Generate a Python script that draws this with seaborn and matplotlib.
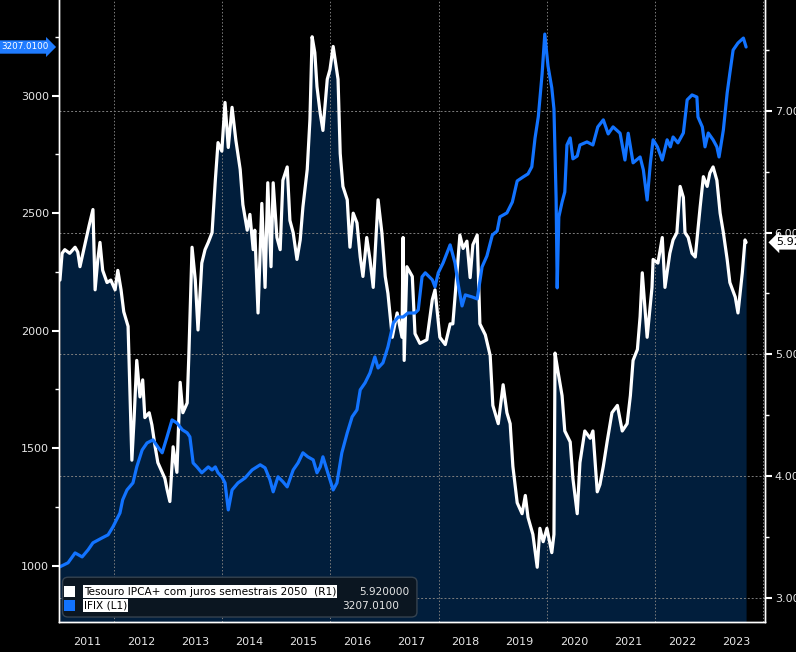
import numpy as np
import pandas as pd
import matplotlib
matplotlib.use("Agg")
import matplotlib.pyplot as plt
import matplotlib.dates as mdates
import matplotlib.transforms as mtransforms
from matplotlib.patches import FancyBboxPatch, Rectangle
import seaborn as sns

# ---------------------------------------------------------------------------
# data (decimal years)

# Tesouro IPCA+ com juros semestrais 2050, yield % (right axis)
tesouro_year = [
    2011.00, 2011.04, 2011.09, 2011.18, 2011.28, 2011.33, 2011.37, 2011.46, 2011.54, 2011.61,
    2011.65, 2011.70, 2011.74, 2011.79, 2011.87, 2011.94, 2012.02, 2012.07, 2012.13, 2012.18,
    2012.26, 2012.33, 2012.37, 2012.42, 2012.48, 2012.53, 2012.57, 2012.65, 2012.70, 2012.76,
    2012.81, 2012.89, 2012.94, 2012.98, 2013.03, 2013.09, 2013.16, 2013.22, 2013.27, 2013.35,
    2013.38, 2013.44, 2013.50, 2013.55, 2013.62, 2013.68, 2013.74, 2013.81, 2013.87, 2013.92,
    2013.99, 2014.05, 2014.11, 2014.18, 2014.25, 2014.33, 2014.38, 2014.46, 2014.51, 2014.57,
    2014.60, 2014.66, 2014.73, 2014.79, 2014.84, 2014.90, 2014.94, 2015.01, 2015.07, 2015.12,
    2015.20, 2015.25, 2015.31, 2015.38, 2015.44, 2015.49, 2015.57, 2015.62, 2015.66, 2015.71,
    2015.75, 2015.81, 2015.86, 2015.94, 2015.99, 2016.05, 2016.10, 2016.14, 2016.18, 2016.23,
    2016.31, 2016.36, 2016.42, 2016.49, 2016.55, 2016.60, 2016.67, 2016.73, 2016.79, 2016.88,
    2016.95, 2017.01, 2017.06, 2017.14, 2017.23, 2017.32, 2017.34, 2017.36, 2017.41, 2017.51,
    2017.56, 2017.65, 2017.78, 2017.88, 2017.93, 2018.02, 2018.12, 2018.21, 2018.26, 2018.34,
    2018.39, 2018.45, 2018.52, 2018.58, 2018.63, 2018.71, 2018.76, 2018.86, 2018.95, 2019.00,
    2019.10, 2019.19, 2019.26, 2019.32, 2019.37, 2019.45, 2019.54, 2019.60, 2019.65, 2019.74,
    2019.82, 2019.87, 2019.93, 2020.00, 2020.09, 2020.13, 2020.15, 2020.20, 2020.28, 2020.33,
    2020.43, 2020.48, 2020.56, 2020.61, 2020.70, 2020.80, 2020.85, 2020.93, 2020.98, 2021.04,
    2021.11, 2021.20, 2021.30, 2021.39, 2021.48, 2021.54, 2021.59, 2021.67, 2021.72, 2021.76,
    2021.85, 2021.94, 2021.96, 2022.05, 2022.13, 2022.18, 2022.27, 2022.33, 2022.40, 2022.46,
    2022.52, 2022.55, 2022.61, 2022.68, 2022.74, 2022.83, 2022.89, 2022.96, 2023.01, 2023.07,
    2023.14, 2023.20, 2023.26, 2023.33, 2023.38, 2023.48, 2023.53, 2023.61, 2023.66, 2023.68,
]
tesouro_yield = [
    5.61, 5.83, 5.86, 5.83, 5.88, 5.84, 5.72, 5.90, 6.06, 6.19,
    5.53, 5.78, 5.92, 5.69, 5.59, 5.61, 5.53, 5.69, 5.53, 5.35,
    5.23, 4.13, 4.46, 4.95, 4.65, 4.79, 4.48, 4.52, 4.42, 4.24,
    4.11, 4.03, 3.98, 3.89, 3.79, 4.24, 4.03, 4.77, 4.52, 4.60,
    4.98, 5.88, 5.61, 5.20, 5.75, 5.86, 5.92, 6.00, 6.43, 6.74,
    6.67, 7.07, 6.70, 7.03, 6.76, 6.52, 6.23, 6.02, 6.15, 5.86,
    6.02, 5.34, 6.24, 5.55, 6.41, 5.72, 6.41, 5.96, 5.86, 6.43,
    6.54, 6.10, 6.00, 5.78, 5.94, 6.21, 6.52, 6.93, 7.61, 7.48,
    7.20, 6.98, 6.84, 7.26, 7.34, 7.53, 7.38, 7.26, 6.65, 6.38,
    6.27, 5.88, 6.16, 6.08, 5.80, 5.64, 5.96, 5.78, 5.55, 6.27,
    6.00, 5.64, 5.50, 5.14, 5.34, 5.14, 5.96, 4.95, 5.72, 5.64,
    5.17, 5.09, 5.12, 5.45, 5.53, 5.14, 5.08, 5.25, 5.25, 5.69,
    5.98, 5.87, 5.93, 5.63, 5.90, 5.98, 5.25, 5.16, 4.99, 4.58,
    4.43, 4.75, 4.52, 4.43, 4.08, 3.78, 3.69, 3.84, 3.66, 3.52,
    3.25, 3.57, 3.46, 3.57, 3.37, 3.52, 5.01, 4.87, 4.66, 4.37,
    4.28, 3.98, 3.69, 4.11, 4.37, 4.31, 4.37, 3.87, 3.93, 4.08,
    4.28, 4.52, 4.58, 4.37, 4.43, 4.66, 4.95, 5.04, 5.31, 5.67,
    5.14, 5.55, 5.78, 5.75, 5.96, 5.55, 5.83, 5.94, 6.00, 6.38,
    6.29, 6.00, 5.96, 5.83, 5.80, 6.21, 6.46, 6.38, 6.49, 6.54,
    6.43, 6.16, 6.00, 5.78, 5.59, 5.47, 5.34, 5.67, 5.94, 5.92,
]

# IFIX index (left axis)
ifix_year = [
    2011.00, 2011.15, 2011.28, 2011.41, 2011.52, 2011.61, 2011.78, 2011.89, 2011.98, 2012.11,
    2012.16, 2012.24, 2012.35, 2012.42, 2012.52, 2012.61, 2012.72, 2012.81, 2012.89, 2012.98,
    2013.07, 2013.16, 2013.26, 2013.35, 2013.40, 2013.46, 2013.53, 2013.62, 2013.74, 2013.81,
    2013.87, 2013.92, 2013.99, 2014.05, 2014.11, 2014.18, 2014.29, 2014.42, 2014.55, 2014.70,
    2014.79, 2014.88, 2014.94, 2015.03, 2015.12, 2015.20, 2015.31, 2015.40, 2015.49, 2015.58,
    2015.68, 2015.75, 2015.81, 2015.86, 2015.95, 2016.05, 2016.12, 2016.21, 2016.31, 2016.40,
    2016.49, 2016.55, 2016.64, 2016.73, 2016.82, 2016.88, 2016.97, 2017.06, 2017.16, 2017.25,
    2017.34, 2017.43, 2017.56, 2017.62, 2017.69, 2017.75, 2017.88, 2017.93, 2017.99, 2018.08,
    2018.21, 2018.30, 2018.36, 2018.43, 2018.49, 2018.62, 2018.71, 2018.80, 2018.89, 2018.99,
    2019.08, 2019.13, 2019.26, 2019.36, 2019.45, 2019.56, 2019.65, 2019.72, 2019.78, 2019.84,
    2019.91, 2019.96, 2020.02, 2020.09, 2020.13, 2020.17, 2020.19, 2020.22, 2020.28, 2020.33,
    2020.37, 2020.43, 2020.48, 2020.56, 2020.61, 2020.74, 2020.85, 2020.94, 2021.04, 2021.13,
    2021.22, 2021.35, 2021.44, 2021.50, 2021.59, 2021.72, 2021.78, 2021.85, 2021.91, 2021.96,
    2022.04, 2022.13, 2022.22, 2022.28, 2022.33, 2022.42, 2022.52, 2022.59, 2022.68, 2022.77,
    2022.79, 2022.87, 2022.92, 2022.98, 2023.07, 2023.14, 2023.18, 2023.26, 2023.33, 2023.38,
    2023.44, 2023.53, 2023.63, 2023.68,
]
ifix_value = [
    995, 1012, 1054, 1037, 1067, 1097, 1118, 1131, 1165, 1224,
    1280, 1322, 1352, 1420, 1492, 1522, 1535, 1505, 1480, 1548,
    1620, 1607, 1578, 1565, 1548, 1437, 1420, 1395, 1420, 1407,
    1420, 1395, 1378, 1352, 1237, 1322, 1352, 1373, 1407, 1429,
    1416, 1365, 1314, 1378, 1357, 1335, 1407, 1437, 1480, 1463,
    1450, 1395, 1420, 1463, 1395, 1322, 1352, 1480, 1565, 1633,
    1663, 1748, 1778, 1820, 1888, 1841, 1863, 1931, 2033, 2058,
    2058, 2075, 2075, 2088, 2229, 2246, 2216, 2186, 2246, 2288,
    2365, 2288, 2195, 2105, 2152, 2143, 2135, 2271, 2318, 2407,
    2424, 2484, 2501, 2547, 2637, 2654, 2667, 2697, 2820, 2910,
    3092, 3262, 3126, 3033, 2943, 2560, 2182, 2484, 2547, 2590,
    2790, 2820, 2731, 2743, 2790, 2803, 2790, 2867, 2897, 2837,
    2867, 2840, 2726, 2840, 2714, 2739, 2684, 2556, 2714, 2812,
    2782, 2726, 2812, 2782, 2824, 2799, 2841, 2982, 3003, 2994,
    2909, 2867, 2782, 2841, 2812, 2782, 2739, 2854, 3011, 3096,
    3194, 3224, 3245, 3207,
]

legend_names = ["Tesouro IPCA+ com juros semestrais 2050  (R1)", "IFIX (L1)"]
legend_values = ["5.920000", "3207.0100"]
left_ticks = [1000, 1500, 2000, 2500, 3000]
right_ticks = [3.0, 4.0, 5.0, 6.0, 7.0]

# ---------------------------------------------------------------------------

def to_date(y):
    yr = int(np.floor(y))
    return pd.Timestamp(year=yr, month=1, day=1) + pd.Timedelta(days=(y - yr) * 365.25)

tesouro = pd.DataFrame({"date": [to_date(v) for v in tesouro_year], "value": tesouro_yield})
ifix = pd.DataFrame({"date": [to_date(v) for v in ifix_year], "value": ifix_value})

sns.set_style("dark", {"axes.facecolor": "black", "figure.facecolor": "black",
                       "axes.edgecolor": "white", "text.color": "#e6e6e6",
                       "xtick.color": "#e6e6e6", "ytick.color": "#e6e6e6"})
plt.rcParams["font.family"] = ["DejaVu Sans"]

NAVY = "#011e3c"
BLUE = "#1273ff"
GRID = "#7d7d7d"

fig = plt.figure(figsize=(7.96, 6.52), dpi=100)
fig.patch.set_facecolor("black")
ax = fig.add_axes([59 / 796, 30 / 652, 706 / 796, 622 / 652])
ax2 = ax.twinx()
ax.set_zorder(ax2.get_zorder() + 1)
ax.patch.set_visible(False)
ax2.patch.set_facecolor("black")

# right axis: yield as filled area
ax2.set_ylim(2.80, 7.912)
ax2.fill_between(tesouro["date"], tesouro["value"], 2.80, color=NAVY, lw=0, zorder=1)
sns.lineplot(data=tesouro, x="date", y="value", ax=ax2, color="white", lw=2.3,
             sort=False, zorder=3)
ax2.set_axisbelow("line")
ax2.grid(axis="y", color=GRID, linestyle=(0, (2, 2)), linewidth=0.7)
for yr in range(2012, 2025, 2):
    ax2.axvline(pd.Timestamp(year=yr, month=1, day=1), color=GRID,
                linestyle=(0, (1.5, 2)), linewidth=0.7, zorder=1.5)

# left axis: IFIX line
sns.lineplot(data=ifix, x="date", y="value", ax=ax, color=BLUE, lw=2.3, sort=False)
ax.set_ylim(760, 3407)

ax.set_xlim(to_date(2010.982), to_date(2024.03))
ax.set_xlabel("")
ax.set_ylabel("")
ax2.set_ylabel("")

# x axis: year boundaries as long ticks, labels centred mid-year
ax.xaxis.set_major_locator(mdates.YearLocator(1))
ax.xaxis.set_major_formatter(plt.NullFormatter())
ax.xaxis.set_minor_locator(mdates.MonthLocator(bymonth=7, bymonthday=1))
ax.xaxis.set_minor_formatter(mdates.DateFormatter("%Y"))
ax.tick_params(axis="x", which="major", length=22, width=1, color="#9a9a9a", direction="out")
ax.tick_params(axis="x", which="minor", length=0, pad=11, labelsize=8, labelcolor="#e6e6e6")

ax.set_yticks(left_ticks)
ax.set_yticks(np.arange(1250, 3400, 500), minor=True)
ax.tick_params(axis="y", which="major", length=5, width=1.5, color="white", labelsize=8, pad=2)
ax.tick_params(axis="y", which="minor", length=3, width=1, color="white")

ax2.set_yticks(right_ticks)
ax2.set_yticklabels([f"{t:.2f}" for t in right_ticks])
ax2.set_yticks(np.arange(3.5, 7.9, 1.0), minor=True)
ax2.tick_params(axis="y", which="major", length=5, width=1.5, color="white", labelsize=8, pad=2)
ax2.tick_params(axis="y", which="minor", length=3, width=1, color="white")
ax2.tick_params(axis="x", length=0)

for a in (ax, ax2):
    a.spines["top"].set_visible(False)
    for s in ("left", "right", "bottom"):
        a.spines[s].set_color("white")
        a.spines[s].set_linewidth(1)

# last-value tags
blend_l = mtransforms.blended_transform_factory(ax.transAxes, ax.transData)
ax.text(-0.0145, ifix_value[-1], legend_values[1], transform=blend_l, ha="right", va="center",
        fontsize=6.3, color="white", clip_on=False,
        bbox=dict(boxstyle="rarrow,pad=0.25", fc="#1f7bff", ec="none"))
blend_r = mtransforms.blended_transform_factory(ax2.transAxes, ax2.transData)
ax2.text(1.016, tesouro_yield[-1], "5.920", transform=blend_r, ha="left", va="center",
         fontsize=8, color="black", clip_on=False,
         bbox=dict(boxstyle="larrow,pad=0.2", fc="white", ec="none"))

# legend box
ax.add_patch(FancyBboxPatch((0.005, 0.008), 0.502, 0.064, transform=ax.transAxes,
                            boxstyle="round,pad=0,rounding_size=0.008",
                            fc="#0b1621", ec="#35424f", lw=1, zorder=10))
sq_colors = ["white", BLUE]
rows_y = [0.049, 0.0265]
for name, val, c, yy in zip(legend_names, legend_values, sq_colors, rows_y):
    ax.add_patch(Rectangle((0.007, yy - 0.009), 0.016, 0.018, transform=ax.transAxes,
                           fc=c, ec="none", zorder=11))
    ax.text(0.035, yy, name, transform=ax.transAxes, ha="left", va="center", fontsize=7.6,
            color="black", zorder=12,
            bbox=dict(boxstyle="square,pad=0.1", fc="white", ec="none"))
    ax.text(0.496 if val == legend_values[0] else 0.482, yy, val, transform=ax.transAxes,
            ha="right", va="center", fontsize=7.6, color="#e6e6e6", zorder=12)

fig.savefig("out.png", dpi=100, facecolor="black")
